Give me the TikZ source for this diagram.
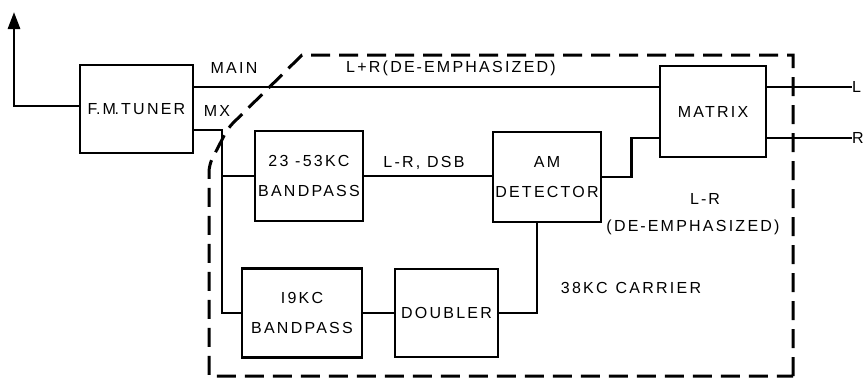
\documentclass[tikz,border=0pt]{standalone}
\usepackage{fontspec}
\setmainfont{Liberation Sans}[LetterSpace=14]
\usetikzlibrary{arrows.meta,calc}
\newcommand{\hy}{\kern2pt-\kern2pt}
\begin{document}
\begin{tikzpicture}[x=1pt,y=-1pt,
  wire/.style={line width=2.9pt, line join=miter},
  blk/.style={draw, line width=2.9pt, rectangle, align=center, inner sep=0pt, font=\fontsize{16}{30}\selectfont},
  lbl/.style={inner sep=0pt, align=center, font=\fontsize{16}{27}\selectfont},
  bound/.style={line width=3pt, dash pattern=on 19pt off 9pt}
]
\useasboundingbox (0,0) rectangle (863,380);
% blocks
\node[blk, minimum width=113pt, minimum height=88pt] (tuner) at (136.5,109) {F\kern-1.5pt.M\kern-1.5pt.TUNER};
\node[blk, minimum width=108pt, minimum height=90pt] (bpA) at (309,176) {23 -53KC\\BANDPASS};
\node[blk, minimum width=108pt, minimum height=90pt] (det) at (547,177) {AM\\DETECTOR};
\node[blk, minimum width=106pt, minimum height=91pt] (matrix) at (713,111.5) {MATRIX};
\node[blk, minimum width=120pt, minimum height=89pt] (bpB) at (302,313) {I9KC\\BANDPASS};
\node[blk, minimum width=103pt, minimum height=88pt] (dbl) at (446.5,313) {DOUBLER};
% labels
\node[lbl] (lmain) at (234,68) {MAIN};
\node[lbl] (lmx) at (217,111) {MX};
\node[lbl] (lsum) at (451,68) {L+R(DE\hy EMPHASIZED)};
\node[lbl] (ldsb) at (424,163) {L-R, DSB};
\node[lbl] (ldiff) at (693,214) {\hspace*{24pt}L\hy R\\(DE\hy EMPHASIZED)};
\node[lbl] (lcar) at (631,288) {38KC\enspace CARRIER};
\node[lbl, anchor=west] (Lt) at (852,87) {L};
\node[lbl, anchor=west] (Rt) at (852,138) {R};
% antenna
\coordinate (ant) at (14,12);
\draw[wire, -{Triangle[length=17pt,width=12pt]}] ([yshift=3pt]tuner.west) -| (ant);
% main path
\coordinate (mainA) at ([yshift=22pt]tuner.east);
\draw[wire] (mainA) -- (mainA -| matrix.west);
\draw[wire] (mainA -| matrix.east) -- (Lt.west);
% mx path
\coordinate (mxA) at ([yshift=-21pt]tuner.east);
\coordinate (jx) at (222,176);
\draw[wire] (mxA) -| (jx) |- (bpB.west);
\draw[wire] (jx) -- (bpA.west);
\draw[wire] (bpA.east) -- (bpA.east -| det.west);
% detector to matrix
\coordinate (rA) at ([yshift=-26.5pt]matrix.west);
\draw[wire] (det.east) -- ++(29,0) |- (rA);
\draw[wire] (rA -| matrix.east) -- (Rt.west);
% carrier
\draw[wire] (bpB.east) -- (dbl.west);
\draw[wire] ([xshift=-10pt]det.south) |- (dbl.east);
% boundary
\draw[bound] (793,376) -- (793,55) -- (302,55) [rounded corners=7pt] -- (228,128) -- (209,165) -- (209,240) [sharp corners] -- (209,376) -- cycle;
\end{tikzpicture}
\end{document}
